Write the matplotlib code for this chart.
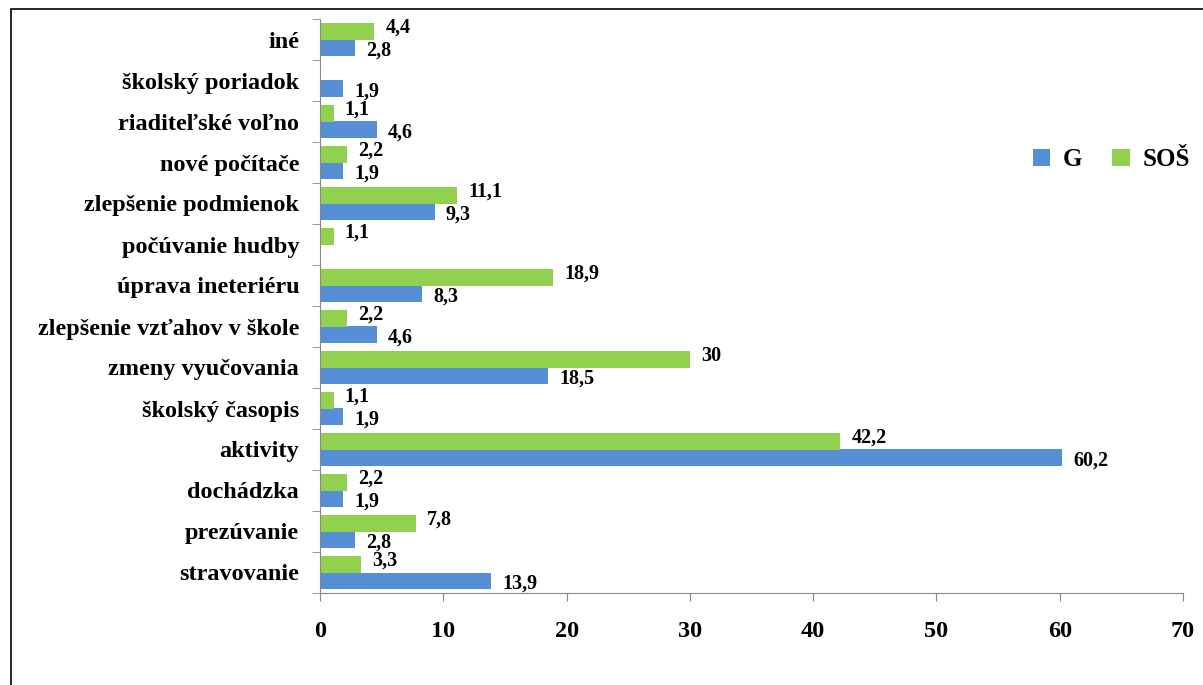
import numpy as np
import matplotlib.pyplot as plt

plt.rcParams['font.family'] = ['Liberation Serif', 'DejaVu Serif']
plt.rcParams['font.weight'] = 'bold'

# kategórie (zdola nahor)
kategorie = ["stravovanie", "prezúvanie", "dochádzka", "aktivity", "školský časopis",
             "zmeny vyučovania", "zlepšenie vzťahov v škole", "úprava ineteriéru",
             "počúvanie hudby", "zlepšenie podmienok", "nové počítače",
             "riaditeľské voľno", "školský poriadok", "iné"]
g_vals = [13.9, 2.8, 1.9, 60.2, 1.9, 18.5, 4.6, 8.3, None, 9.3, 1.9, 4.6, 1.9, 2.8]
sos_vals = [3.3, 7.8, 2.2, 42.2, 1.1, 30, 2.2, 18.9, 1.1, 11.1, 2.2, 1.1, None, 4.4]

blue = "#558ed5"
green = "#92d050"

fig = plt.figure(figsize=(12.03, 6.85), dpi=100)
ax = fig.add_axes([320 / 1203, 1 - 593 / 685, (1183 - 320) / 1203, (593 - 19) / 685])

y = np.arange(len(kategorie))
h = 0.41
g_plot = [v if v is not None else 0 for v in g_vals]
s_plot = [v if v is not None else 0 for v in sos_vals]
ax.barh(y - h / 2, g_plot, height=h, color=blue, label="G")
ax.barh(y + h / 2, s_plot, height=h, color=green, label="SOŠ")

fmt = lambda v: (f"{v:g}").replace(".", ",")
for i in range(len(kategorie)):
    if g_vals[i] is not None:
        ax.annotate(fmt(g_vals[i]), (g_vals[i], y[i] - h / 2), xytext=(8, -2),
                    textcoords="offset points", ha="left", va="center",
                    fontsize=14.5, fontweight="bold")
    if sos_vals[i] is not None:
        ax.annotate(fmt(sos_vals[i]), (sos_vals[i], y[i] + h / 2), xytext=(8, 2.5),
                    textcoords="offset points", ha="left", va="center",
                    fontsize=14.5, fontweight="bold")

ax.set_xlim(0, 70)
ax.set_ylim(-0.5, len(kategorie) - 0.5)
ax.set_xticks(range(0, 71, 10))
ax.set_yticks(y)
ax.set_yticklabels(kategorie)
ax.set_yticks(np.arange(-0.5, len(kategorie), 1), minor=True)
ax.tick_params(axis="y", which="major", length=0, pad=15, labelsize=17.5)
ax.tick_params(axis="y", which="minor", length=6, color="#888888")
ax.tick_params(axis="x", length=6, color="#888888", pad=14, labelsize=17.5)

for s in ["top", "right"]:
    ax.spines[s].set_visible(False)
for s in ["left", "bottom"]:
    ax.spines[s].set_color("#888888")

ax.legend(loc="center left", bbox_to_anchor=(0.80, 0.755), frameon=False,
          ncol=2, fontsize=18, handlelength=0.7, handleheight=0.7,
          columnspacing=1.2, handletextpad=0.5)

# rámček okolo grafu
fig.patches.append(plt.Rectangle((11 / 1203, -0.01), 1.2, 1 - 9 / 685 + 0.01,
                                 transform=fig.transFigure, fill=False,
                                 edgecolor="black", linewidth=1.2))

fig.savefig("out.png", dpi=100)
